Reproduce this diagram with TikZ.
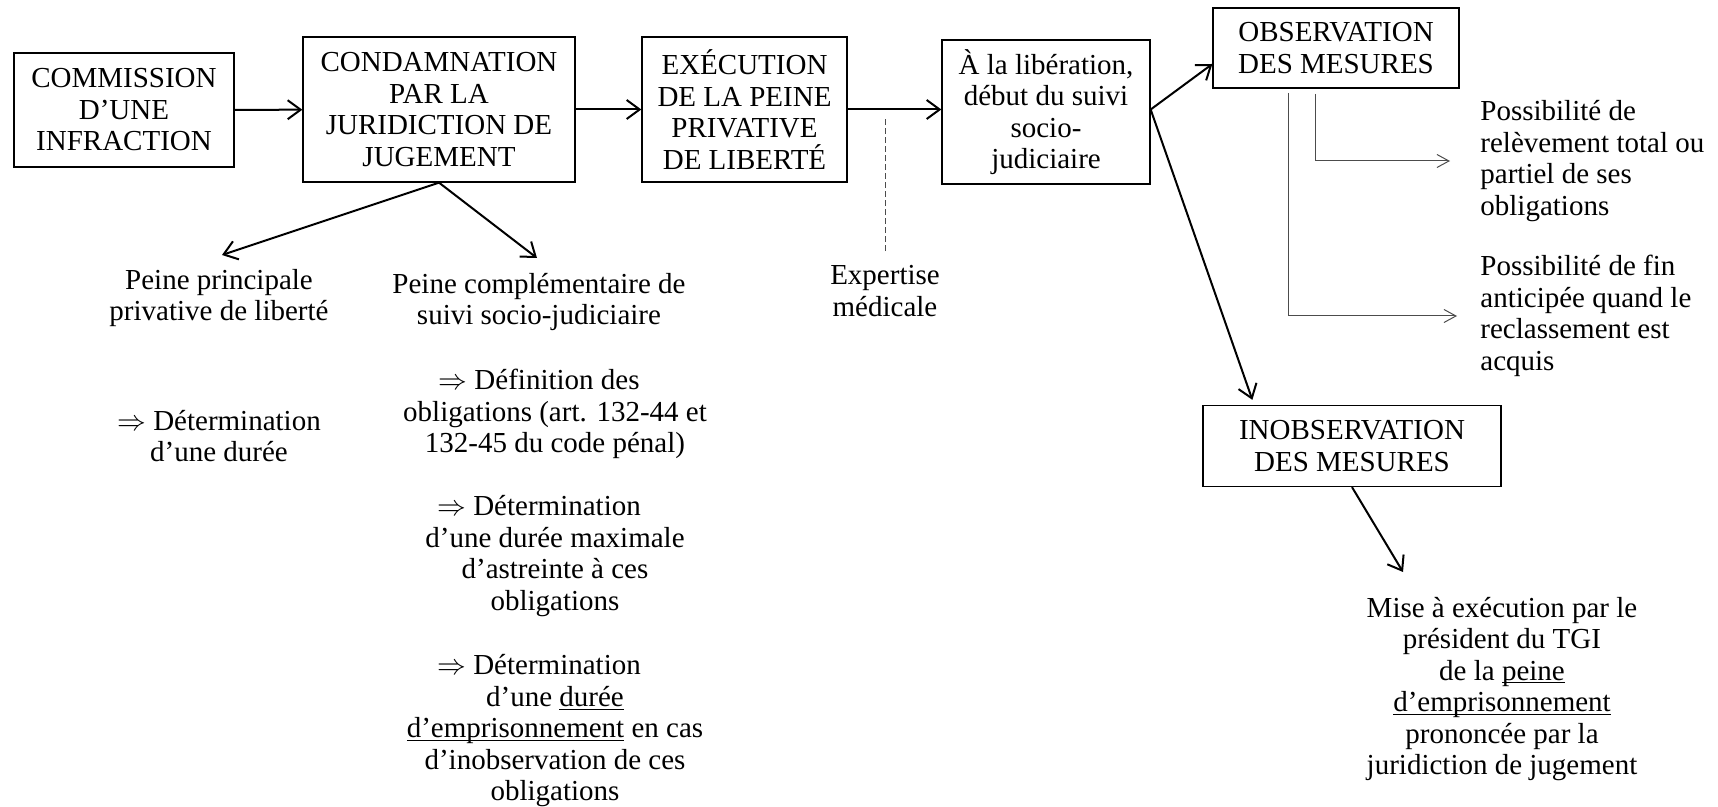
\documentclass[tikz,border=0pt]{standalone}
\usepackage{fontspec}
\setmainfont{Liberation Serif}
\usetikzlibrary{arrows.meta, positioning}

\newcommand\souligne[1]{\setbox0\hbox{#1}\rlap{\rule[-1.6pt]{\wd0}{0.5pt}}\box0\relax}

\tikzset{
  boite/.style={draw, line width=0.65pt, align=center, inner sep=2pt},
  texte/.style={align=center, inner sep=1pt},
  fleche/.style={line width=1pt, -{Straight Barb[length=6.5pt,width=9.5pt]}},
  flechefine/.style={line width=0.5pt, draw=black!70, -{Straight Barb[length=6pt,width=6.5pt]}},
  pointille/.style={line width=0.5pt, draw=black!70, dash pattern=on 3pt off 1.5pt},
}

\begin{document}
\begin{tikzpicture}[x=0.5pt, y=-0.5pt, font=\fontsize{14.5}{15.75}\selectfont]
    \useasboundingbox (0,0) rectangle (1718,807);

    % la chaine principale
    \node[boite, minimum width=110pt, minimum height=57pt] (commission) at (124,110) {COMMISSION\\D'UNE\\INFRACTION};
    \node[boite, minimum width=136pt, minimum height=72.5pt] (condamnation) at (439,109.5) {CONDAMNATION\\PAR LA\\JURIDICTION DE\\JUGEMENT};
    \node[boite, minimum width=102.5pt, minimum height=72.5pt] (execution) at (744.5,109.5) {EXÉCUTION\\DE LA PEINE\\PRIVATIVE\\DE LIBERTÉ};
    \node[boite, minimum width=104pt, minimum height=72pt] (liberation) at (1046,112) {À la libération,\\début du suivi\\socio-\\judiciaire};
    \node[boite, minimum width=123pt, minimum height=40pt] (observation) at (1336,48) {OBSERVATION\\DES MESURES};
    \node[boite, minimum width=149pt, minimum height=40.5pt] (inobservation) at (1352,446) {INOBSERVATION\\DES MESURES};

    % les textes libres
    \node[texte] (principale) at (219,298) {Peine principale\\privative de liberté};
    \node[texte] (complementaire) at (539,302) {Peine complémentaire de\\suivi socio-judiciaire};
    \node[texte] (duree) at (219,436) {$\Rightarrow$ Détermination\\d'une durée};
    \node[texte] (definition) at (555,414) {$\Rightarrow$ Définition des\hspace*{16pt}\\obligations (art. 132-44 et\\132-45 du code pénal)};
    \node[texte] (maximale) at (555,556) {$\Rightarrow$ Détermination\hspace*{16pt}\\d'une durée maximale\\d'astreinte à ces\\obligations};
    \node[texte] (emprisonnement) at (555,731) {$\Rightarrow$ Détermination\hspace*{16pt}\\d'une \souligne{durée}\\\souligne{d'emprisonnement} en cas\\d'inobservation de ces\\obligations};
    \node[texte] (expertise) at (885,291) {Expertise\\médicale};
    \node[texte, anchor=west, align=left] (releve) at (1478,161) {Possibilité de\\relèvement total ou\\partiel de ses\\obligations};
    \node[texte, anchor=west, align=left] (anticipee) at (1478,316) {Possibilité de fin\\anticipée quand le\\reclassement est\\acquis};
    \node[texte] (execpeine) at (1502,689) {Mise à exécution par le\\président du TGI\\de la \souligne{peine}\\\souligne{d'emprisonnement}\\prononcée par la\\juridiction de jugement};

    \coordinate (fourche) at (liberation.east |- execution.east);
    \coordinate (versPrincipale) at (222,255);
    \coordinate (versComplementaire) at (537,258);
    \coordinate (versPeine) at (1403,572);
    \coordinate (obsDroite) at (1315,94);
    \coordinate (obsGauche) at (1288,93);

    \draw[fleche] (commission) -- (condamnation);
    \draw[fleche] (condamnation) -- (execution);
    \draw[fleche] (execution.east) -- (execution.east -| liberation.west);
    \draw[pointille] ([yshift=6pt]expertise.north) -- ([yshift=-4pt]expertise.north |- execution.east);
    \draw[fleche] (condamnation.south) -- (versPrincipale);
    \draw[fleche] (condamnation.south) -- (versComplementaire);
    \draw[fleche] (fourche) -- ([yshift=-8pt]observation.west);
    \draw[fleche] (fourche) -- ([xshift=25pt,yshift=2.5pt]inobservation.north west);
    \draw[fleche] (inobservation.south) -- (versPeine);
    \draw[flechefine] (obsDroite) |- ([xshift=-14pt]releve.west);
    \draw[flechefine] (obsGauche) |- ([xshift=-10.5pt]anticipee.west);
\end{tikzpicture}
\end{document}
